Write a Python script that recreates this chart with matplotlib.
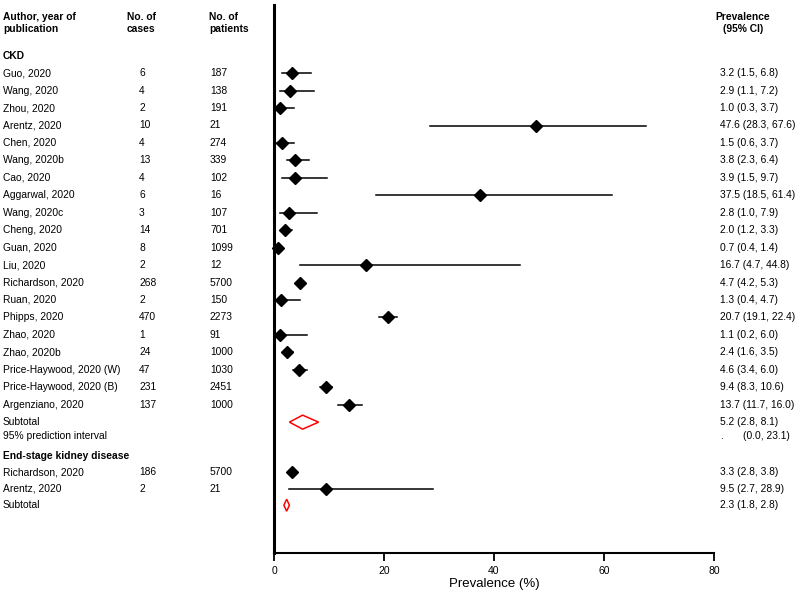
import matplotlib

matplotlib.use("Agg")
import matplotlib.pyplot as plt
import matplotlib.transforms as mtransforms
from matplotlib.patches import Polygon

plt.rcParams["font.family"] = ["Liberation Sans", "DejaVu Sans"]

# ---- data ----
ckd_authors = ["Guo, 2020", "Wang, 2020", "Zhou, 2020", "Arentz, 2020", "Chen, 2020",
               "Wang, 2020b", "Cao, 2020", "Aggarwal, 2020", "Wang, 2020c", "Cheng, 2020",
               "Guan, 2020", "Liu, 2020", "Richardson, 2020", "Ruan, 2020", "Phipps, 2020",
               "Zhao, 2020", "Zhao, 2020b", "Price-Haywood, 2020 (W)",
               "Price-Haywood, 2020 (B)", "Argenziano, 2020"]
ckd_cases = [6, 4, 2, 10, 4, 13, 4, 6, 3, 14, 8, 2, 268, 2, 470, 1, 24, 47, 231, 137]
ckd_patients = [187, 138, 191, 21, 274, 339, 102, 16, 107, 701, 1099, 12, 5700, 150,
                2273, 91, 1000, 1030, 2451, 1000]
ckd_est = [3.2, 2.9, 1.0, 47.6, 1.5, 3.8, 3.9, 37.5, 2.8, 2.0, 0.7, 16.7, 4.7, 1.3,
           20.7, 1.1, 2.4, 4.6, 9.4, 13.7]
ckd_lo = [1.5, 1.1, 0.3, 28.3, 0.6, 2.3, 1.5, 18.5, 1.0, 1.2, 0.4, 4.7, 4.2, 0.4,
          19.1, 0.2, 1.6, 3.4, 8.3, 11.7]
ckd_hi = [6.8, 7.2, 3.7, 67.6, 3.7, 6.4, 9.7, 61.4, 7.9, 3.3, 1.4, 44.8, 5.3, 4.7,
          22.4, 6.0, 3.5, 6.0, 10.6, 16.0]
ckd_sub = (5.2, 2.8, 8.1)
ckd_pi = (0.0, 23.1)

eskd_authors = ["Richardson, 2020", "Arentz, 2020"]
eskd_cases = [186, 2]
eskd_patients = [5700, 21]
eskd_est = [3.3, 9.5]
eskd_lo = [2.8, 2.7]
eskd_hi = [3.8, 28.9]
eskd_sub = (2.3, 1.8, 2.8)

xticks = [0, 20, 40, 60, 80]

# ---- layout (y in pixels from top) ----
W, H = 795, 594
fig = plt.figure(figsize=(W / 100, H / 100), dpi=100)
ax = fig.add_axes([274 / W, (H - 553) / H, 440 / W, 548 / H])
ax.set_xlim(0, 80)
ax.set_ylim(553, 5)

tr = mtransforms.blended_transform_factory(fig.transFigure, ax.transData)
FS = 7.4
X_AUTH, X_CASE, X_PAT, X_PREV = 3 / W, 139 / W, 210 / W, 720 / W
TK = dict(transform=tr, va="center", fontsize=FS, clip_on=False)


def fmt(e, lo, hi):
    return f"{e:.1f} ({lo:.1f}, {hi:.1f})"


def row_text(y, author, cases, pats, prev, bold=False):
    kw = dict(TK, fontweight="bold") if bold else TK
    ax.text(X_AUTH, y, author, **kw)
    if cases is not None:
        ax.text(X_CASE, y, str(cases), **kw)
        ax.text(X_PAT, y, str(pats), **kw)
    if prev is not None:
        ax.text(X_PREV, y, prev, **kw)


def study(y, e, lo, hi):
    ax.plot([lo, hi], [y, y], color="black", lw=1.1, clip_on=False, zorder=2)
    ax.plot(e, y, marker="D", color="black", ms=6.3, clip_on=False, zorder=3)


def diamond(y, e, lo, hi, h=7):
    ax.add_patch(Polygon([(lo, y), (e, y - h), (hi, y), (e, y + h)], closed=True,
                         fill=False, edgecolor="red", lw=1.1, clip_on=False))


# headers
hk = dict(TK, fontweight="bold", linespacing=1.25)
ax.text(X_AUTH, 23.5, "Author, year of\npublication", multialignment="left", **hk)
ax.text(127 / W, 23.5, "No. of\ncases", multialignment="left", **hk)
ax.text(209 / W, 23.5, "No. of\npatients", multialignment="left", **hk)
ax.text(743 / W, 23.5, "Prevalence\n(95% CI)", ha="center", multialignment="center", **hk)

step = 17.45
y0 = 55.7
row_text(y0, "CKD", None, None, None, bold=True)
for i, a in enumerate(ckd_authors):
    y = y0 + step * (i + 1)
    row_text(y, a, ckd_cases[i], ckd_patients[i], fmt(ckd_est[i], ckd_lo[i], ckd_hi[i]))
    study(y, ckd_est[i], ckd_lo[i], ckd_hi[i])

y_sub = y0 + step * (len(ckd_authors) + 1)
row_text(y_sub, "Subtotal", None, None, fmt(*ckd_sub))
diamond(y_sub, *ckd_sub)
y_pi = y_sub + 14
ax.text(X_AUTH, y_pi, "95% prediction interval", **TK)
ax.text(X_PREV, y_pi, ".", **TK)
ax.text(743 / W, y_pi, f"({ckd_pi[0]:.1f}, {ckd_pi[1]:.1f})", **TK)

step2 = 16.5
y1 = 455.7
row_text(y1, "End-stage kidney disease", None, None, None, bold=True)
for i, a in enumerate(eskd_authors):
    y = y1 + step2 * (i + 1)
    row_text(y, a, eskd_cases[i], eskd_patients[i],
             fmt(eskd_est[i], eskd_lo[i], eskd_hi[i]))
    study(y, eskd_est[i], eskd_lo[i], eskd_hi[i])
y_sub2 = y1 + step2 * (len(eskd_authors) + 1)
row_text(y_sub2, "Subtotal", None, None, fmt(*eskd_sub))
diamond(y_sub2, *eskd_sub, h=6)

# axes styling
ax.spines["top"].set_visible(False)
ax.spines["right"].set_visible(False)
ax.spines["left"].set_linewidth(2.2)
ax.spines["bottom"].set_linewidth(1.5)
ax.set_yticks([])
ax.set_xticks(xticks)
ax.tick_params(axis="x", direction="out", length=6, width=1.3, labelsize=7.5, pad=3)
ax.set_xlabel("Prevalence (%)", fontsize=9.5, labelpad=2)
ax.patch.set_visible(False)

fig.savefig("out.png", dpi=100)
